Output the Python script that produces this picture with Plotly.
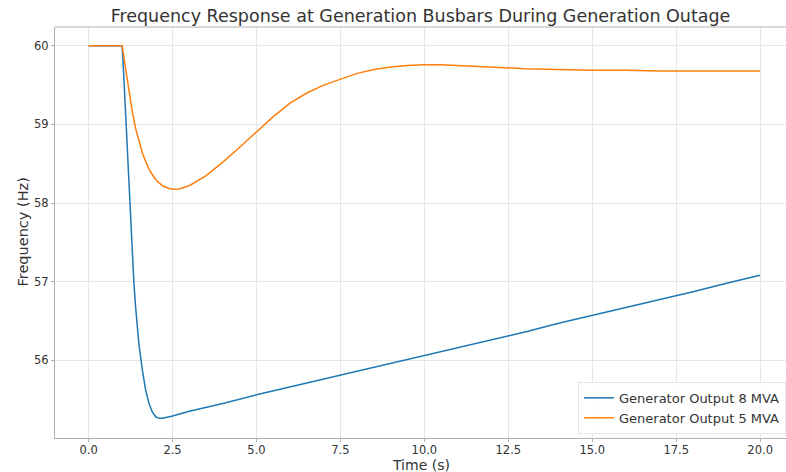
import plotly.graph_objects as go

# Time samples (s)
time_8mva = [0.0, 0.5, 1.0, 1.05, 1.1, 1.15, 1.2, 1.25, 1.3, 1.35, 1.4, 1.5, 1.6, 1.7, 1.8, 1.9,
             2.0, 2.1, 2.2, 2.5, 3.0, 4.0, 5.0, 6.0, 7.0, 8.0, 9.0, 10.0, 11.0, 12.0, 13.0,
             14.0, 15.0, 16.0, 17.0, 18.0, 19.0, 20.0]
freq_8mva = [60.0, 60.0, 60.0, 59.6, 59.15, 58.7, 58.25, 57.8, 57.38, 56.98, 56.68, 56.2, 55.88,
             55.62, 55.45, 55.34, 55.28, 55.26, 55.26, 55.29, 55.35, 55.45, 55.56, 55.66, 55.76,
             55.86, 55.96, 56.06, 56.16, 56.26, 56.36, 56.47, 56.57, 56.67, 56.77, 56.87,
             56.98, 57.08]

time_5mva = [0.0, 0.5, 1.0, 1.1, 1.2, 1.3, 1.4, 1.5, 1.6, 1.7, 1.8, 1.9, 2.0, 2.2, 2.4, 2.55,
             2.7, 2.85, 3.0, 3.5, 4.0, 4.5, 5.0, 5.5, 6.0, 6.5, 7.0, 7.5, 8.0, 8.5, 9.0, 9.5,
             10.0, 10.5, 11.0, 11.5, 12.0, 12.5, 13.0, 14.0, 15.0, 16.0, 17.0, 18.0, 19.0, 20.0]
freq_5mva = [60.0, 60.0, 60.0, 59.72, 59.44, 59.17, 58.95, 58.78, 58.64, 58.53, 58.43, 58.36,
             58.3, 58.22, 58.185, 58.175, 58.18, 58.2, 58.22, 58.35, 58.52, 58.71, 58.91,
             59.1, 59.27, 59.4, 59.5, 59.58, 59.65, 59.7, 59.73, 59.75, 59.76, 59.76, 59.75,
             59.74, 59.73, 59.72, 59.71, 59.7, 59.69, 59.69, 59.68, 59.68, 59.68, 59.68]

series_names = ["Generator Output 8 MVA", "Generator Output 5 MVA"]
series_colors = ["#1f77b4", "#ff7f0e"]

x_ticks = [0.0, 2.5, 5.0, 7.5, 10.0, 12.5, 15.0, 17.5, 20.0]
x_tick_labels = ["0.0", "2.5", "5.0", "7.5", "10.0", "12.5", "15.0", "17.5", "20.0"]
y_ticks = [56, 57, 58, 59, 60]
y_tick_labels = ["56", "57", "58", "59", "60"]

title_text = "Frequency Response at Generation Busbars During Generation Outage"
x_label = "Time (s)"
y_label = "Frequency (Hz)"

FONT = "DejaVu Sans"
TEXT_COLOR = "#333333"

fig = go.Figure()
fig.add_trace(go.Scatter(x=time_8mva, y=freq_8mva, mode="lines", name=series_names[0],
                         line=dict(color=series_colors[0], width=1.5)))
fig.add_trace(go.Scatter(x=time_5mva, y=freq_5mva, mode="lines", name=series_names[1],
                         line=dict(color=series_colors[1], width=1.5)))

axis_common = dict(
    showgrid=True, gridcolor="#e6e6e6", gridwidth=1,
    showline=True, linecolor="#b0b0b0", linewidth=1,
    ticks="outside", ticklen=3, tickcolor="#b0b0b0",
    tickfont=dict(family=FONT, size=11.5, color=TEXT_COLOR),
    zeroline=False, mirror=False,
)

fig.update_layout(
    width=786, height=472,
    margin=dict(l=55, r=0, t=27, b=34),
    paper_bgcolor="white", plot_bgcolor="white",
    font=dict(family=FONT, color=TEXT_COLOR),
    title=dict(text=title_text, x=0.5, xref="paper", xanchor="center",
               y=1 - 16 / 472, yref="container", yanchor="middle",
               font=dict(family=FONT, size=17.5, color=TEXT_COLOR)),
    xaxis=dict(range=[-1.0, 20.77], tickvals=x_ticks, ticktext=x_tick_labels,
               ticklabelstandoff=-2, **axis_common),
    yaxis=dict(range=[55.01, 60.24], tickvals=y_ticks, ticktext=y_tick_labels, **axis_common),
    legend=dict(x=1.0, xanchor="right", y=0.01, yanchor="bottom",
                bgcolor="rgba(255,255,255,0.85)", bordercolor="#e6e6e6", borderwidth=1,
                font=dict(family=FONT, size=13, color=TEXT_COLOR),
                itemwidth=30, tracegroupgap=0),
    showlegend=True,
    shapes=[dict(type="line", xref="paper", yref="paper", x0=0, x1=1, y0=1, y1=1,
                 line=dict(color="#b0b0b0", width=1))],
    annotations=[
        dict(text=x_label, xref="paper", yref="paper", x=0.5, y=-(465 - 438) / 411,
             xanchor="center", yanchor="middle", showarrow=False, borderpad=0,
             font=dict(family=FONT, size=14, color=TEXT_COLOR)),
        dict(text=y_label, xref="paper", yref="paper", x=-(55 - 22) / 731, y=0.5,
             xanchor="center", yanchor="middle", showarrow=False, textangle=-90,
             font=dict(family=FONT, size=14.5, color=TEXT_COLOR)),
    ],
)

fig.write_html("out.html")
